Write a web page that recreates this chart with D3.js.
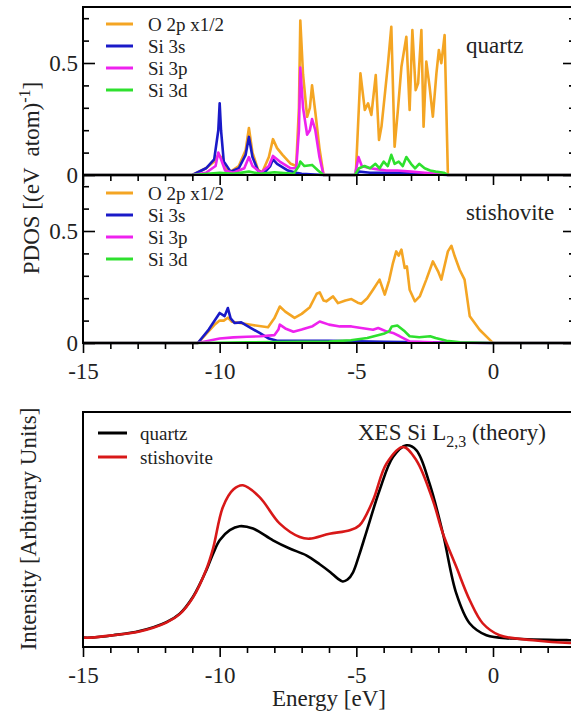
<!DOCTYPE html>
<html>
<head>
<meta charset="utf-8">
<script src="https://cdn.jsdelivr.net/npm/d3@7.9.0/dist/d3.min.js"></script>
<style>
  body { margin: 0; background: #fff; }
  svg { display: block; }
  svg text { font-family: "Liberation Serif", "Times New Roman", Times, "DejaVu Serif", serif; }
  .frame { fill: none; stroke: #000; stroke-width: 2; }
  .axis path { display: none; }
  .axis line { stroke: #000; stroke-width: 1.6; }
  .axis text { font-size: 23px; fill: #222; }
  .pdos { fill: none; stroke-width: 2.6; stroke-linejoin: round; }
  .xes { fill: none; stroke-width: 2.6; }
</style>
</head>
<body>
<div id="chart"></div>
<script>
// PDOS of quartz, energies in eV, values in (eV atom)^-1
const quartzO2p = [[-15,0],[-11,0],[-10.5,0.03],[-10.2,0.06],[-10.05,0.09],[-9.95,0.08],[-9.8,0.03],[-9.6,0.015],[-9.3,0.04],[-9.05,0.11],[-8.93,0.21],[-8.8,0.1],[-8.6,0.025],[-8.45,0.01],[-8.2,0.08],[-8.05,0.16],[-7.9,0.12],[-7.7,0.09],[-7.4,0.05],[-7.2,0.04],[-7.1,0.3],[-7.05,0.69],[-6.95,0.45],[-6.8,0.26],[-6.7,0.3],[-6.62,0.4],[-6.5,0.28],[-6.35,0.12],[-6.2,0],
  [-5.02,0],[-4.85,0.454],[-4.69,0.29],[-4.57,0.32],[-4.45,0.268],[-4.29,0.446],[-4.17,0.156],[-4.08,0.216],[-3.96,0.357],[-3.84,0.499],[-3.72,0.662],[-3.6,0.126],[-3.48,0.29],[-3.35,0.483],[-3.23,0.573],[-3.17,0.617],[-3.05,0.29],[-2.95,0.647],[-2.83,0.379],[-2.74,0.409],[-2.62,0.647],[-2.54,0.216],[-2.44,0.506],[-2.32,0.394],[-2.2,0.26],[-2.07,0.454],[-1.98,0.558],[-1.89,0.499],[-1.77,0.625],[-1.65,0],[3,0]];
const quartzSi3s = [[-15,0],[-11,0],[-10.5,0.03],[-10.2,0.07],[-10.05,0.2],[-10.0,0.32],[-9.95,0.2],[-9.85,0.06],[-9.6,0.015],[-9.3,0.03],[-9.05,0.09],[-8.93,0.17],[-8.8,0.08],[-8.6,0.02],[-8.4,0.005],[-8.15,0.04],[-8.05,0.07],[-7.9,0.05],[-7.5,0.02],[-7.2,0.01],[-7.0,0.005],[-6.2,0],
  [-5.05,0],[-4.9,0.015],[-4.5,0.01],[-3.5,0.01],[-2.5,0.005],[-1.65,0],[3,0]];
const quartzSi3p = [[-15,0],[-11,0],[-10.5,0.01],[-10.15,0.04],[-10.05,0.1],[-9.95,0.07],[-9.8,0.02],[-9.5,0.01],[-9.1,0.03],[-8.93,0.08],[-8.8,0.04],[-8.5,0.01],[-8.2,0.04],[-8.05,0.085],[-7.8,0.06],[-7.4,0.03],[-7.2,0.03],[-7.1,0.2],[-7.05,0.48],[-6.95,0.3],[-6.8,0.18],[-6.7,0.2],[-6.62,0.25],[-6.5,0.2],[-6.35,0.08],[-6.2,0],
  [-5.05,0],[-4.92,0.08],[-4.8,0.04],[-4.5,0.03],[-4.2,0.025],[-3.9,0.02],[-3.5,0.02],[-3.0,0.015],[-2.5,0.01],[-2.0,0.005],[-1.65,0],[3,0]];
const quartzSi3d = [[-15,0],[-11,0],[-10,0.01],[-9.5,0.005],[-8.93,0.015],[-8.5,0.005],[-8.0,0.012],[-7.3,0.005],[-7.1,0.04],[-7.05,0.06],[-6.9,0.04],[-6.62,0.045],[-6.4,0.02],[-6.2,0],
  [-5.05,0],[-4.9,0.03],[-4.7,0.04],[-4.5,0.03],[-4.3,0.05],[-4.15,0.03],[-4.0,0.06],[-3.85,0.04],[-3.72,0.09],[-3.6,0.05],[-3.45,0.06],[-3.3,0.04],[-3.17,0.08],[-3.0,0.05],[-2.85,0.03],[-2.7,0.05],[-2.5,0.03],[-2.3,0.02],[-2.1,0.015],[-1.8,0.01],[-1.65,0],[3,0]];

// PDOS of stishovite
const stishO2p = [[-15,0],[-10.8,0],[-10.5,0.04],[-10.2,0.08],[-10.0,0.1],[-9.85,0.1],[-9.7,0.113],[-9.55,0.095],[-9.2,0.088],[-8.8,0.08],[-8.23,0.07],[-8.0,0.11],[-7.8,0.163],[-7.6,0.14],[-7.26,0.112],[-7.0,0.13],[-6.7,0.16],[-6.45,0.22],[-6.34,0.226],[-6.2,0.19],[-6.1,0.186],[-5.85,0.208],[-5.67,0.178],[-5.4,0.19],[-5.18,0.196],[-4.95,0.18],[-4.82,0.175],[-4.6,0.2],[-4.39,0.238],[-4.15,0.283],[-3.96,0.216],[-3.8,0.28],[-3.66,0.357],[-3.54,0.409],[-3.45,0.39],[-3.35,0.417],[-3.23,0.335],[-3.15,0.342],[-3.05,0.238],[-2.86,0.186],[-2.68,0.208],[-2.44,0.283],[-2.2,0.364],[-2.01,0.32],[-1.89,0.283],[-1.65,0.409],[-1.52,0.434],[-1.4,0.387],[-1.22,0.327],[-1.04,0.283],[-0.85,0.119],[-0.49,0.059],[-0.06,0.007],[0,0],[3,0]];
const stishSi3s = [[-15,0],[-10.8,0],[-10.4,0.06],[-10.0,0.134],[-9.82,0.12],[-9.7,0.156],[-9.6,0.11],[-9.45,0.089],[-9.21,0.092],[-8.9,0.07],[-8.54,0.045],[-8.2,0.02],[-7.9,0.01],[-6.0,0.01],[-5.0,0.008],[-4.0,0.005],[-2.5,0.003],[-1.0,0.001],[0,0],[3,0]];
const stishSi3p = [[-15,0],[-10.8,0],[-10.4,0.01],[-10.0,0.02],[-9.5,0.025],[-9.0,0.028],[-8.5,0.03],[-8.0,0.035],[-7.85,0.06],[-7.8,0.082],[-7.6,0.065],[-7.3,0.05],[-7.0,0.06],[-6.6,0.075],[-6.34,0.096],[-6.0,0.082],[-5.6,0.074],[-5.18,0.074],[-4.82,0.067],[-4.39,0.059],[-4.2,0.067],[-3.9,0.052],[-3.66,0.045],[-3.41,0.03],[-3.05,0.007],[-2.2,0.003],[0,0],[3,0]];
const stishSi3d = [[-15,0],[-10.8,0],[-9,0.003],[-7,0.005],[-6,0.006],[-5.2,0.012],[-4.6,0.022],[-4.0,0.041],[-3.8,0.052],[-3.7,0.074],[-3.5,0.078],[-3.23,0.052],[-3.05,0.03],[-2.7,0.026],[-2.3,0.03],[-2.1,0.022],[-1.7,0.01],[-1.2,0.003],[0,0],[3,0]];

// XES Si L2,3 (arbitrary units)
const xesQuartz = [[-15,0.04],[-14.7,0.04],[-13.9,0.05],[-12.93,0.068],[-11.95,0.106],[-11.46,0.142],[-10.98,0.213],[-10.49,0.326],[-10.24,0.397],[-10.0,0.454],[-9.63,0.497],[-9.27,0.514],[-8.78,0.504],[-8.05,0.454],[-7.44,0.419],[-6.83,0.39],[-6.34,0.352],[-5.95,0.318],[-5.7,0.293],[-5.5,0.279],[-5.32,0.287],[-5.12,0.318],[-4.9,0.39],[-4.63,0.49],[-4.15,0.667],[-3.66,0.809],[-3.17,0.858],[-2.8,0.837],[-2.32,0.695],[-1.83,0.482],[-1.34,0.227],[-0.85,0.1],[-0.24,0.05],[0.73,0.036],[2.8,0.029],[3,0.029]];
const xesStish = [[-15,0.04],[-14.7,0.04],[-13.9,0.05],[-12.93,0.066],[-11.95,0.104],[-11.46,0.14],[-10.98,0.21],[-10.49,0.33],[-10.24,0.42],[-9.88,0.596],[-9.5,0.67],[-9.15,0.688],[-8.54,0.638],[-7.8,0.525],[-7.07,0.468],[-6.71,0.461],[-5.98,0.482],[-5.24,0.497],[-4.88,0.518],[-4.39,0.624],[-3.9,0.78],[-3.29,0.851],[-2.8,0.794],[-2.2,0.624],[-1.83,0.482],[-1.34,0.34],[-0.85,0.199],[-0.37,0.1],[0.24,0.05],[1.46,0.029],[2.8,0.017],[3,0.017]];

const pdosNames = ["O 2p x1/2", "Si 3s", "Si 3p", "Si 3d"];
const pdosColors = ["#f4a523", "#1a1ac8", "#ee22ee", "#2ee02e"];
const xesNames = ["quartz", "stishovite"];
const xesColors = ["#000000", "#d81818"];
const majorTicksX = [-15, -10, -5, 0];
const majorTicksY = [0, 0.5];

const SERIF = "Liberation Serif, Times New Roman, Times, DejaVu Serif, serif";
const W = 571, H = 715;
const svg = d3.select("#chart").append("svg").attr("width", W).attr("height", H);

const x = d3.scaleLinear().domain([-15, 3]).range([83, 575]);
const minorX = d3.range(-15, 4, 1).filter(d => d % 5 !== 0);
const minorY = d3.range(0.1, 0.75, 0.1).filter(d => Math.abs(d - 0.5) > 1e-6);

function pdosPanel(top, bottom, series, label, legendTop, labelY, showXLabels) {
  const y = d3.scaleLinear().domain([0, 0.75]).range([bottom, top]);
  const g = svg.append("g");

  const line = d3.line().x(d => x(d[0])).y(d => y(d[1]));
  series.forEach((s, i) => {
    g.append("path").attr("class", "pdos").attr("d", line(s)).attr("stroke", pdosColors[i]);
  });

  g.append("rect").attr("class", "frame")
    .attr("x", x(-15)).attr("y", top).attr("width", x(3) - x(-15)).attr("height", bottom - top);

  // y ticks, inward left and right
  g.append("g").attr("class", "axis").attr("transform", `translate(${x(-15)},0)`)
    .call(d3.axisLeft(y).tickValues(majorTicksY).tickSize(-12).tickPadding(5).tickFormat(d => d === 0 ? "0" : "0.5"));
  g.append("g").attr("class", "axis").attr("transform", `translate(${x(-15)},0)`)
    .call(d3.axisLeft(y).tickValues(minorY).tickSize(-6).tickFormat(""));
  g.append("g").attr("class", "axis").attr("transform", `translate(${x(3)},0)`)
    .call(d3.axisRight(y).tickValues(majorTicksY).tickSize(-12).tickFormat(""));
  g.append("g").attr("class", "axis").attr("transform", `translate(${x(3)},0)`)
    .call(d3.axisRight(y).tickValues(minorY).tickSize(-6).tickFormat(""));

  // x ticks, outward below
  g.append("g").attr("class", "axis").attr("transform", `translate(0,${bottom})`)
    .call(d3.axisBottom(x).tickValues(majorTicksX).tickSize(10).tickPadding(10).tickFormat(d => showXLabels ? String(d) : ""));
  g.append("g").attr("class", "axis").attr("transform", `translate(0,${bottom})`)
    .call(d3.axisBottom(x).tickValues(minorX).tickSize(6).tickFormat(""));

  // legend
  pdosNames.forEach((n, i) => {
    const ly = legendTop + i * 22;
    g.append("line").attr("x1", 106).attr("x2", 133).attr("y1", ly).attr("y2", ly)
      .attr("stroke", pdosColors[i]).attr("stroke-width", 3);
    g.append("text").attr("x", 148).attr("y", ly + 6.5).attr("font-size", 19).attr("fill", "#222").text(n);
  });

  g.append("text").attr("x", 466).attr("y", labelY).attr("font-size", 23).attr("fill", "#222").text(label);
}

pdosPanel(7, 175, [quartzO2p, quartzSi3s, quartzSi3p, quartzSi3d], "quartz", 24, 53, false);
pdosPanel(175, 343, [stishO2p, stishSi3s, stishSi3p, stishSi3d], "stishovite", 193, 220, true);

// PDOS axis label
const pl = svg.append("text").attr("transform", "translate(39,178) rotate(-90)")
  .attr("text-anchor", "middle").attr("font-size", 23).attr("fill", "#222").style("white-space", "pre");
pl.append("tspan").text("PDOS [(eV  atom)");
pl.append("tspan").attr("dy", -9).attr("font-size", 16).text("-1");
pl.append("tspan").attr("dy", 9).text("]");

// XES panel
const yb = d3.scaleLinear().domain([0, 1]).range([647, 412]);
const gb = svg.append("g");
const xesLine = d3.line().curve(d3.curveCatmullRom.alpha(0.5)).x(d => x(d[0])).y(d => yb(d[1]));
[xesQuartz, xesStish].forEach((s, i) => {
  gb.append("path").attr("class", "xes").attr("d", xesLine(s)).attr("stroke", xesColors[i]);
});
gb.append("rect").attr("class", "frame")
  .attr("x", x(-15)).attr("y", 412).attr("width", x(3) - x(-15)).attr("height", 647 - 412);
gb.append("g").attr("class", "axis").attr("transform", "translate(0,647)")
  .call(d3.axisBottom(x).tickValues(majorTicksX).tickSize(10).tickPadding(10).tickFormat(d => String(d)));
gb.append("g").attr("class", "axis").attr("transform", "translate(0,647)")
  .call(d3.axisBottom(x).tickValues(minorX).tickSize(6).tickFormat(""));

xesNames.forEach((n, i) => {
  const ly = 433 + i * 24;
  gb.append("line").attr("x1", 98).attr("x2", 127).attr("y1", ly).attr("y2", ly)
    .attr("stroke", xesColors[i]).attr("stroke-width", 3);
  gb.append("text").attr("x", 140).attr("y", ly + 7).attr("font-size", 19).attr("fill", "#222").text(n);
});

const title = gb.append("text").attr("x", 358).attr("y", 440).attr("font-size", 23).attr("fill", "#222");
title.append("tspan").text("XES Si L");
title.append("tspan").attr("dy", 7).attr("font-size", 16).text("2,3");
title.append("tspan").attr("dy", -7).text(" (theory)");

svg.append("text").attr("x", (x(-15) + x(3)) / 2).attr("y", 706).attr("text-anchor", "middle")
  .attr("font-size", 23).attr("fill", "#222").text("Energy [eV]");
svg.append("text").attr("transform", "translate(36,529) rotate(-90)").attr("text-anchor", "middle")
  .attr("font-size", 23).attr("fill", "#222").text("Intensity [Arbitrary Units]");

// serif everywhere, including axis labels (d3 sets sans-serif on axis groups)
svg.selectAll("g.axis").attr("font-family", SERIF);
svg.selectAll("text").attr("font-family", SERIF);
</script>
</body>
</html>
